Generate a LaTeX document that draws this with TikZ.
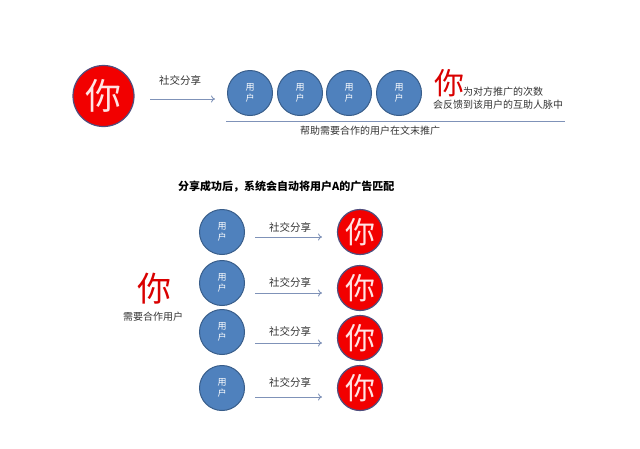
\documentclass[tikz,border=0pt]{standalone}
\usepackage{fontspec}
\newfontfamily\cjk{Noto Sans CJK SC}
\usetikzlibrary{positioning,arrows.meta}

\definecolor{userblue}{HTML}{4F81BD}
\definecolor{userline}{HTML}{385D8A}
\definecolor{youred}{HTML}{F20000}
\definecolor{youline}{HTML}{4F4E7E}
\definecolor{youtext}{HTML}{FFE4E4}
\definecolor{sharegrey}{HTML}{7F92B8}
\definecolor{textgrey}{HTML}{333333}

\newcommand\fs[1]{\fontsize{#1}{#1}\selectfont}

\begin{document}
\begin{tikzpicture}[
    x=1pt,y=-1pt,
    user/.style={draw=userline,line width=1pt,circle,fill=userblue,minimum size=45pt,
      inner sep=0pt,text=white,align=center,font=\cjk\fs{9}},
    you/.style={draw=youline,line width=1.2pt,circle,fill=youred,minimum size=45pt,
      inner sep=0pt,text=youtext,font=\cjk\fs{30}},
    share/.style={draw=sharegrey,line width=0.9pt,-{To[length=4pt,width=7pt]}},
    label/.style={text=textgrey,font=\cjk\fs{10},inner sep=0pt}
  ]
    \useasboundingbox (0,0) rectangle (640,448);

    % top row
    \node[you,minimum size=61pt,font=\cjk\fs{36}] (me) at (103.5,96) {你};
    \coordinate (s1) at (150,99);
    \coordinate (s2) at (215,99);
    \draw[share] (s1) -- (s2);
    \node[label,font=\cjk\fs{10.5}] (sharetop) at (180,80) {社交分享};

    \node[user] (u1) at (250,93) {用\\[2pt]户};
    \node[user] (u2) at (300,93) {用\\[2pt]户};
    \node[user] (u3) at (349,93) {用\\[2pt]户};
    \node[user] (u4) at (399,93) {用\\[2pt]户};

    \coordinate (l1) at (226,121);
    \coordinate (l2) at (565,121);
    \draw[sharegrey,line width=0.8pt] (l1) -- (l2);
    \node[label] (promote) at (370,131) {帮助需要合作的用户在文末推广};

    \node[text=red!85!black,font=\cjk\fs{30},inner sep=0pt] (bigyou) at (449,83) {你};
    \node[label,anchor=south west] (count) at (463,97) {为对方推广的次数};
    \node[label,anchor=west] (feedback) at (433,105) {会反馈到该用户的互助人脉中};

    % bottom part
    \node[font=\cjk\bfseries\fs{11},inner sep=0pt,anchor=west] (title) at (178,187)
      {分享成功后，系统会自动将用户A的广告匹配};

    \node[text=red!85!black,font=\cjk\fs{34},inner sep=0pt] (leftyou) at (154,289) {你};
    \node[label] (need) at (153,317) {需要合作用户};

    \node[user] (b1) at (222,232) {用\\[2pt]户};
    \node[user] (b2) at (222,283) {用\\[2pt]户};
    \node[user] (b3) at (222,332) {用\\[2pt]户};
    \node[user] (b4) at (222,388) {用\\[2pt]户};

    \node[you] (y1) at (360,232) {你};
    \node[you] (y2) at (360,288) {你};
    \node[you] (y3) at (360,338) {你};
    \node[you] (y4) at (360,388) {你};

    \coordinate (a1) at (255,237); \coordinate (c1) at (322,237);
    \coordinate (a2) at (255,293); \coordinate (c2) at (322,293);
    \coordinate (a3) at (255,343); \coordinate (c3) at (322,343);
    \coordinate (a4) at (255,397); \coordinate (c4) at (322,397);
    \draw[share] (a1) -- (c1);
    \draw[share] (a2) -- (c2);
    \draw[share] (a3) -- (c3);
    \draw[share] (a4) -- (c4);

    \node[label,font=\cjk\fs{10.5}] (t1) at (290,227) {社交分享};
    \node[label,font=\cjk\fs{10.5}] (t2) at (290,282) {社交分享};
    \node[label,font=\cjk\fs{10.5}] (t3) at (290,331) {社交分享};
    \node[label,font=\cjk\fs{10.5}] (t4) at (290,382) {社交分享};
  \end{tikzpicture}
\end{document}
